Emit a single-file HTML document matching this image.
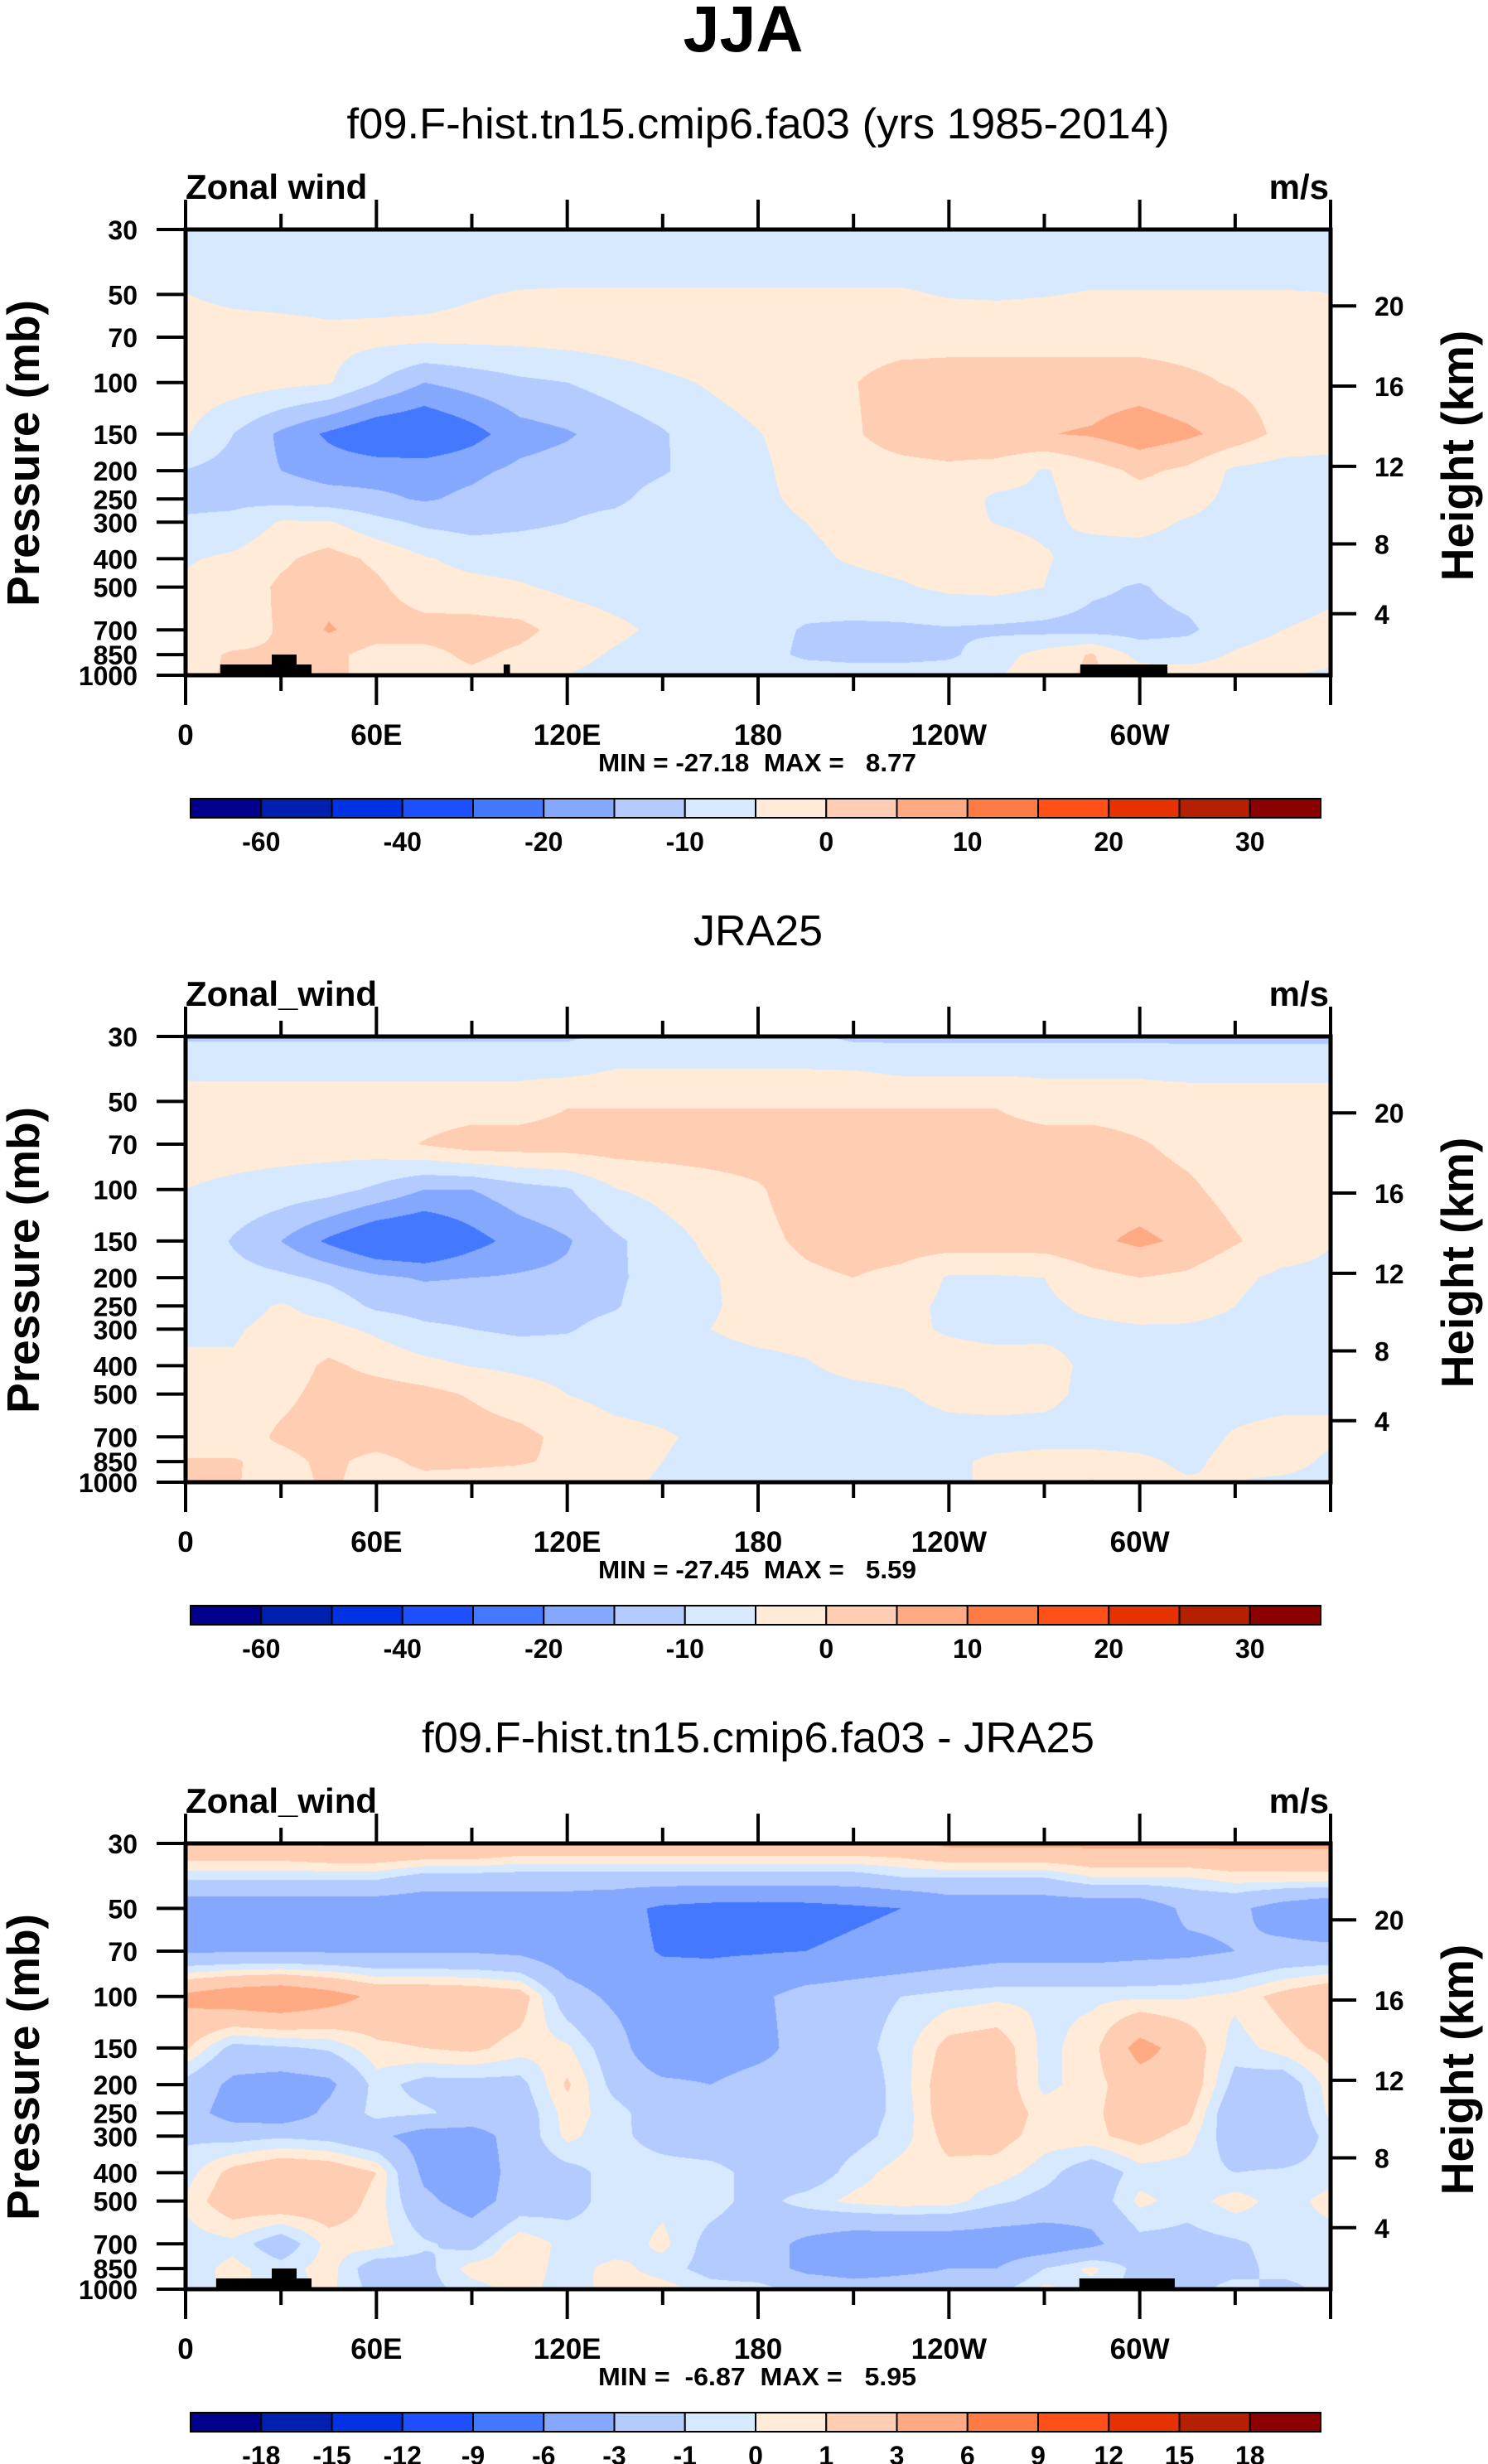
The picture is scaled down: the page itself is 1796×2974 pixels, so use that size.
<!DOCTYPE html>
<html><head><meta charset="utf-8"><style>
html,body{margin:0;padding:0;background:#fff;}
#wrap{position:relative;width:1796px;height:2974px;overflow:hidden;background:#fff;}
canvas{position:absolute;}
svg{position:absolute;left:0;top:0;}
text{font-family:"Liberation Sans",Arial,sans-serif;fill:#000;}
.pre{white-space:pre;}
</style></head><body>
<div id="wrap">
<canvas id="c0" width="1382" height="538" style="left:224px;top:277px"></canvas>
<canvas id="c1" width="1382" height="538" style="left:224px;top:1251px"></canvas>
<canvas id="c2" width="1382" height="538" style="left:224px;top:2225px"></canvas>
<svg id="ov" width="1796" height="2974"></svg>
</div>
<script>
const levels = [30,40,50,70,100,150,200,250,300,400,500,700,850,1000];
const lons = [0,15,30,45,60,75,90,105,120,135,150,165,180,195,210,225,240,255,270,285,300,315,330,345,360];
const boundsWind = [-60,-50,-40,-30,-20,-15,-10,-5,0,5,10,15,20,25,30];
const boundsDiff = [-18,-15,-12,-9,-6,-3,-1,0,1,3,6,9,12,15,18];
const colors = ["#00008c","#0020b0","#0032e4","#1e50ff","#4478ff","#85a8ff","#b3cbff","#d6e9ff","#ffebd8","#ffcdb2","#ffaa82","#ff7a45","#ff5019","#e63200","#b52000","#8b0000"];
const labelsWind = ["","-60","","-40","","-20","","-10","","0","","10","","20","","30",""];
const labelsDiff = ["","-18","-15","-12","-9","-6","-3","-1","0","1","3","6","9","12","15","18",""];
const xTickLons = [0,60,120,180,240,300];
const xTickLabels = ["0","60E","120E","180","120W","60W"];
const pTicks = [30,50,70,100,150,200,250,300,400,500,700,850,1000];
const zTicks = [20,16,12,8,4];
const minMax = ["MIN = -27.18  MAX =   8.77","MIN = -27.45  MAX =   5.59","MIN =  -6.87  MAX =   5.95"];
const landModel = [[10.9,39.6,919],[27.1,34.9,850],[100,102,919],[281.3,308.7,919]];
const landDiff = [[9.6,39.6,919],[27.1,34.9,850],[281,311,919]];

const model = [
[-7,-7,-7,-7,-7,-7,-7,-7,-7,-7,-7,-7,-7,-7,-7,-7,-7,-7,-7,-7,-7,-7,-7,-7,-7],
[-6.5,-6.5,-6.5,-6.5,-6.5,-6.5,-6.5,-6.5,-6.5,-6.5,-6.5,-6.5,-6.5,-6.5,-6.5,-6.5,-6.5,-6.5,-6.5,-6.5,-6.5,-6.5,-6.5,-6.5,-6.5],
[-4.9,-6.5,-7,-7.2,-6.8,-6.3,-5.3,-4.7,-4.5,-4.5,-4.5,-4.5,-4.5,-4.5,-4.5,-4.5,-5.3,-5.5,-5.2,-4.7,-4.7,-4.7,-4.7,-4.7,-4.9],
[-2,-2,-2.5,-3.5,-3.5,-3.5,-3.5,-3.5,-3,-2.5,-2,-2,-2,-2,-2,-2,-2,-2,-2,-2,-2,-2,-2,-2,-2],
[-2,-2.5,-3.5,-4.5,-10,-15,-13,-11,-10,-8,-6,-4.5,-3,-2,-0.2,2,2.5,2.5,2.5,2.5,2.5,1,-0.5,-2,-2],
[-4.5,-10,-16,-21,-25,-26,-22,-17,-15.5,-13,-10.5,-7,-5.2,-3,-0.5,2,3,4,4.8,5.5,8,6,3,-1.5,-2.5],
[-10.2,-12,-15,-17,-17,-17,-16,-14,-13,-12,-10.5,-7.5,-6,-3,-2,-1.5,-1,-2,-5.5,-2,1,-1,-6,-7,-7],
[-11,-11,-12,-13,-14,-15.5,-14,-12,-11.5,-11,-8,-6.5,-6,-4,-2,-2,-2,-6,-6,-3,-2,-3,-6.5,-7,-7],
[-9.5,-9,-4.5,-4.5,-8.5,-11,-12,-11,-10,-8.5,-7,-7,-6.5,-5,-3.5,-3,-3.5,-5.2,-6,-4,-3.5,-5.5,-7,-7,-7],
[-5.5,-4,-1,2,-1,-4.5,-6.5,-7,-7,-7,-7,-7,-7,-6,-4.5,-3.5,-3,-2.5,-4.5,-7,-7,-7,-7,-7,-7],
[-4,-3.5,1,3,1,-3,-3.5,-4.5,-6,-7,-7,-7,-7,-7,-6.5,-5.5,-4,-3.5,-5,-9,-10.5,-8,-7,-7,-6],
[-3,-2.5,0.5,5.5,2.5,2,2,1.5,-2,-4,-6,-7,-8,-10.5,-11,-11,-10.5,-11,-11.5,-12,-12,-11,-7,-5,-4],
[-1.5,0.5,0.5,1.5,-2,-1.5,1,-1,-3.5,-5.5,-7,-7,-8,-11,-12,-12,-11,-7,-3,0.5,-7,-7,-4.5,-3,-3],
[-1,0.5,1,1.5,-2,-2,-1,-3,-5,-6.5,-7,-6.5,-6,-7,-7,-7,-7,-5.5,-2,1,-2,-3,-3,-4.5,-6]
];
const jra = [
[-10.7,-10.7,-10.7,-10.7,-10.7,-10.7,-10.7,-10.7,-10.7,-9,-9,-9,-9,-9,-11,-11,-11,-11,-11,-11,-11,-11,-11,-11,-11],
[-5.8,-5.8,-5.8,-5.8,-5.8,-5.8,-5.8,-5.8,-5.8,-4.5,-4.5,-4.5,-4.5,-4.5,-4.5,-5.5,-5.5,-5.5,-5.5,-5.5,-5.5,-6,-6,-6,-6],
[-3,-3,-3,-3,-3,-3,-3,-3,-0.5,-0.5,-0.5,-0.5,-0.5,-0.5,-0.5,-0.5,-0.5,-0.5,-3,-3,-3,-3,-3,-3,-3],
[-3,-3,-3,-3,-2,0.3,2.5,2.5,2.5,2.5,2.5,2.5,2.5,2.5,2.5,2.5,2.5,2.5,2.5,2.5,0.5,-1.5,-3,-3,-3],
[-5,-6,-7,-8,-11,-15,-15,-12,-10.5,-5.2,-3.5,-2,-0.5,2.5,2.5,2.5,2.5,2.5,2.5,2.5,2.5,1,-2,-3,-3],
[-5.5,-10.5,-15,-21,-26,-27,-22,-18,-15.5,-11,-7,-4,-1.5,1,2.5,2.5,2.5,2.5,2.5,4,6,4,0.5,-2.5,-4.8],
[-8,-8,-9,-11,-14,-15.5,-15,-14.5,-14,-11,-7.5,-5.5,-3,-1,0,-1.5,-5.5,-5.5,-5,-1.5,0,-1,-4,-6,-6],
[-6,-7,-4.5,-7,-11,-12,-12,-12,-12,-10.5,-6.5,-5.5,-3.5,-3,-3,-3.5,-6,-7,-6,-4,-3,-3.5,-5,-7,-7],
[-6,-5.5,-3.5,-3.5,-6,-9,-10,-11,-10.5,-8,-6.5,-5,-3.5,-3,-3,-4,-5.5,-6.5,-6,-6,-5.5,-5.5,-6,-7,-7],
[-4,-4.5,-3,1,-1.5,-3.5,-5.2,-6,-6.5,-7,-7,-7,-6.5,-5.5,-3.5,-3,-3,-3,-3.5,-6,-7,-7,-7,-7,-5],
[-3,-3,-1.5,2,2.5,1.5,-0.5,-3,-5,-6.5,-7,-7,-7,-7,-6.5,-5.5,-3.5,-3,-3.5,-6.5,-7,-7,-7,-7,-6],
[-3,-3,1,3,3,4,2.5,1.5,-1.5,-3.5,-4.5,-6,-7,-7,-7,-7,-7,-7,-7,-7,-7,-7,-4.5,-3,-4],
[0.5,0.5,-2,1.5,-2,1.5,1,0.5,-1,-3.5,-5,-6.5,-7,-7,-7,-7,-6,-4,-3,-3,-4,-6,-3.5,-3,-6],
[1,0.5,-2.5,1,-2.5,-2,-2,-2.5,-3,-4,-5.5,-5.5,-6.5,-7,-7,-7,-6,-4,-2.5,0.5,-3,-4.5,-5,-6,-7]
];
const diff = [
[2.8,2.8,2.8,3.3,3.3,3.3,3.3,2.5,2.5,2.5,2.5,2.5,2.5,2.5,2.5,2.5,3.5,3.5,3.5,3.5,3.5,3.5,3.5,3.5,3.5],
[-1,-1,-1,-1,-1,-2,-2,-2,-2,-2,-2,-2,-2,-2,-2,-1.3,-1.3,-1.3,-1.3,-0.3,-0.3,-0.3,0.3,0.3,0.3],
[-4.5,-4.5,-4.5,-4.5,-4.5,-4.5,-4.5,-4.5,-4.5,-5,-6.5,-7,-7.2,-7,-6.5,-6,-4.5,-4.5,-4.5,-4.5,-4.5,-2.5,-2.5,-4,-5],
[-3.2,-3.2,-3.2,-3.2,-3.2,-3.2,-3.2,-3.5,-4.5,-5,-6.2,-6.3,-6.2,-6,-5.5,-5,-4.5,-4,-4,-4,-3.7,-3.5,-3,-2.5,-2.5],
[3.5,4.5,5,4,2.5,2.5,2.3,1.8,-2,-3.5,-4.5,-4.5,-3.5,-2,-1.5,-1,-0.5,-0.2,-0.2,-0.2,-0.2,-0.1,0.3,1.5,2.5],
[1.2,-1.5,-1.2,-0.8,0.7,1,1.3,0.5,0.2,-2,-5,-4.5,-3.8,-2,-1.5,-0.5,1.5,1.8,-0.3,0.5,3.8,2,-0.5,0.5,1.5],
[-1.5,-3.5,-4,-3.5,-0.5,-1.5,-1.5,-1.5,1.2,-1.5,-2.5,-3,-2,-2,-2,-0.5,2,2,-0.3,0.5,2,2.2,-1.5,-2,0.5],
[-2,-4,-4.5,-2.5,-0.5,-0.8,-1.5,-2,0.5,-0.5,-2,-2,-2,-2,-1.6,-0.7,2,2,0.5,0.7,2,1.5,-2.5,-2.5,0.3],
[-1.2,-1.5,-1.2,-1.5,-2.5,-4,-4,-2,0.3,-0.7,-1.5,-2,-2,-2,-1.5,-0.5,1.5,1.5,0.5,0.7,1.5,0.5,-2,-2.5,-0.5],
[-0.5,1.5,2.5,2.2,1,-3.5,-4.5,-2,-1.5,-0.5,-0.5,-0.5,-1.5,-2,-0.5,0.5,0.6,0.5,-0.5,-2,-0.5,-0.5,-1,-0.8,-0.5],
[0.2,2,2.3,2,0.6,-2.5,-4,-2,-1.5,-0.5,-0.3,-0.5,-1.5,-0.5,0.3,0.6,0.5,-0.7,-1.5,-2,0.3,-0.5,0.5,-0.5,0.4],
[-0.5,-0.3,-2,0.4,0.5,-0.8,-1.5,0.8,-0.4,-0.7,0.3,-1.5,-2,-3.5,-4.5,-4.5,-4.5,-4.5,-4.5,-3.5,-1.5,-1.5,-1.2,-0.5,-0.5],
[-0.5,0.3,-0.5,0.5,-2,-1.5,0.5,0.7,-0.5,0.4,-0.5,-1.5,-2,-3.5,-4,-3.5,-3,-3,-1,0.3,-1.5,-1.7,-1.5,-0.5,-0.5],
[-0.5,0.3,-0.5,0.3,-1.5,-1.5,-0.5,0.5,-0.6,0.5,0.5,-0.5,-0.5,-1.5,-2,-2,-2,-1.5,0.3,-0.5,-1.5,-1.5,-0.5,-1.5,-0.5]
];

const PL=224, PW=1382, PH=538;
const tops=[277,1251,2225];
const LN=Math.log(1000/30);
function yOfP(p){return PH*Math.log(p/30)/LN;}
function xOfLon(l){return PW*l/360;}
function zToP(z){return z<=11?1013.25*Math.pow(1-z/44.33,5.256):226.3*Math.exp(-(z-11)/6.34);}
function hexRGB(h){return [parseInt(h.substr(1,2),16),parseInt(h.substr(3,2),16),parseInt(h.substr(5,2),16)];}
const rgb=colors.map(hexRGB);

function render(id,field,bounds){
  const cv=document.getElementById(id), ctx=cv.getContext('2d');
  const img=ctx.createImageData(PW,PH), d=img.data;
  const lnL=levels.map(Math.log);
  for(let py=0;py<PH;py++){
    const lp=Math.log(30)+ (py+0.5)/PH*LN;
    let i=0; while(i<levels.length-2 && lp>lnL[i+1]) i++;
    let t=(lp-lnL[i])/(lnL[i+1]-lnL[i]); t=Math.max(0,Math.min(1,t));
    for(let px=0;px<PW;px++){
      const lon=(px+0.5)/PW*360;
      let j=Math.min(lons.length-2,Math.floor(lon/15));
      const u=(lon-lons[j])/15;
      const v=(1-t)*((1-u)*field[i][j]+u*field[i][j+1])+t*((1-u)*field[i+1][j]+u*field[i+1][j+1]);
      let k=0; while(k<bounds.length && v>=bounds[k]) k++;
      const c=rgb[k], o=(py*PW+px)*4;
      d[o]=c[0];d[o+1]=c[1];d[o+2]=c[2];d[o+3]=255;
    }
  }
  ctx.putImageData(img,0,0);
}
render('c0',model,boundsWind);
render('c1',jra,boundsWind);
render('c2',diff,boundsDiff);

const NS='http://www.w3.org/2000/svg', ov=document.getElementById('ov');
function el(tag,attrs,parent){const e=document.createElementNS(NS,tag);for(const k in attrs)e.setAttribute(k,attrs[k]);(parent||ov).appendChild(e);return e;}
function txt(s,attrs,parent){const e=el('text',attrs,parent);e.textContent=s;return e;}

let t=txt('JJA',{x:897,y:62,'font-size':79,'font-weight':'bold','text-anchor':'middle'});



const titles=['f09.F-hist.tn15.cmip6.fa03 (yrs 1985-2014)','JRA25','f09.F-hist.tn15.cmip6.fa03 - JRA25'];
const titleLen=[993,null,812];
const leftLabels=['Zonal wind','Zonal_wind','Zonal_wind'];
const lands=[landModel,[],landDiff];

for(let p=0;p<3;p++){
  const top=tops[p];
  const g=el('g',{});
  
  
  const ta={x:915,y:top-110,'font-size':52,'text-anchor':'middle'};
  if(titleLen[p]){ta.textLength=titleLen[p];ta.lengthAdjust='spacingAndGlyphs';}
  t=txt(titles[p],ta,g);
  
  
  t=txt(leftLabels[p],{x:224,y:top-37,'font-size':42,'font-weight':'bold'},g);
  
  
  t=txt('m/s',{x:1604,y:top-37,'font-size':42,'font-weight':'bold','text-anchor':'end'},g);
  
  
  for(const L of lands[p]){
    const x0=PL+xOfLon(L[0]), x1=PL+xOfLon(L[1]), y0=top+yOfP(L[2]);
    const r=el('rect',{x:x0,y:y0,width:x1-x0,height:top+PH-y0,fill:'#000'},g);
    
    
  }
  const b=el('rect',{x:PL,y:top,width:PW,height:PH,fill:'none',stroke:'#000','stroke-width':5},g);
  
  
  for(let lon=0;lon<=360;lon+=30){
    const x=PL+xOfLon(lon), maj=lon%60===0, len=maj?36:19;
    const a=el('line',{x1:x,x2:x,y1:top,y2:top-len,stroke:'#000','stroke-width':4},g);
    
    
    const c=el('line',{x1:x,x2:x,y1:top+PH,y2:top+PH+len,stroke:'#000','stroke-width':4},g);
    
    
  }
  xTickLons.forEach((lon,i)=>{
    const x=PL+xOfLon(lon);
    const l=txt(xTickLabels[i],{x:x,y:top+PH+84,'font-size':35,'font-weight':'bold','text-anchor':'middle'},g);
    
    
  });
  t=txt(minMax[p],{x:914,y:top+PH+116,'font-size':31,'font-weight':'bold','text-anchor':'middle',textLength:384,lengthAdjust:'spacingAndGlyphs','class':'pre'},g);
  
  
  pTicks.forEach(pr=>{
    const y=top+yOfP(pr);
    const a=el('line',{x1:189,x2:PL,y1:y,y2:y,stroke:'#000','stroke-width':4},g);
    
    
    const l=txt(String(pr),{x:166,y:y+12,'font-size':32,'font-weight':'bold','text-anchor':'end'},g);
    
    
  });
  zTicks.forEach(z=>{
    const y=top+yOfP(zToP(z));
    const a=el('line',{x1:PL+PW,x2:1637,y1:y,y2:y,stroke:'#000','stroke-width':4},g);
    
    
    const l=txt(String(z),{x:1659,y:y+12,'font-size':32,'font-weight':'bold'},g);
    
    
  });
  t=txt('Pressure (mb)',{x:0,y:0,'font-size':55,'font-weight':'bold','text-anchor':'middle',transform:'translate(47,'+(top+270)+') rotate(-90)'},g);
  
  
  t=txt('Height (km)',{x:0,y:0,'font-size':55,'font-weight':'bold','text-anchor':'middle',transform:'translate(1778,'+(top+273)+') rotate(-90)'},g);
  
  
  const cbY=top+687, cbX=230, bw=85.25, labs=p===2?labelsDiff:labelsWind;
  for(let k=0;k<16;k++){
    const r=el('rect',{x:cbX+k*bw,y:cbY,width:bw,height:23,fill:colors[k],stroke:'#000','stroke-width':2},g);
    
    
  }
  for(let k=0;k<=16;k++){
    if(!labs[k]) continue;
    const l=txt(labs[k],{x:cbX+k*bw,y:cbY+63,'font-size':32,'font-weight':'bold','text-anchor':'middle'},g);
    
    
  }
}
</script>
</body></html>
